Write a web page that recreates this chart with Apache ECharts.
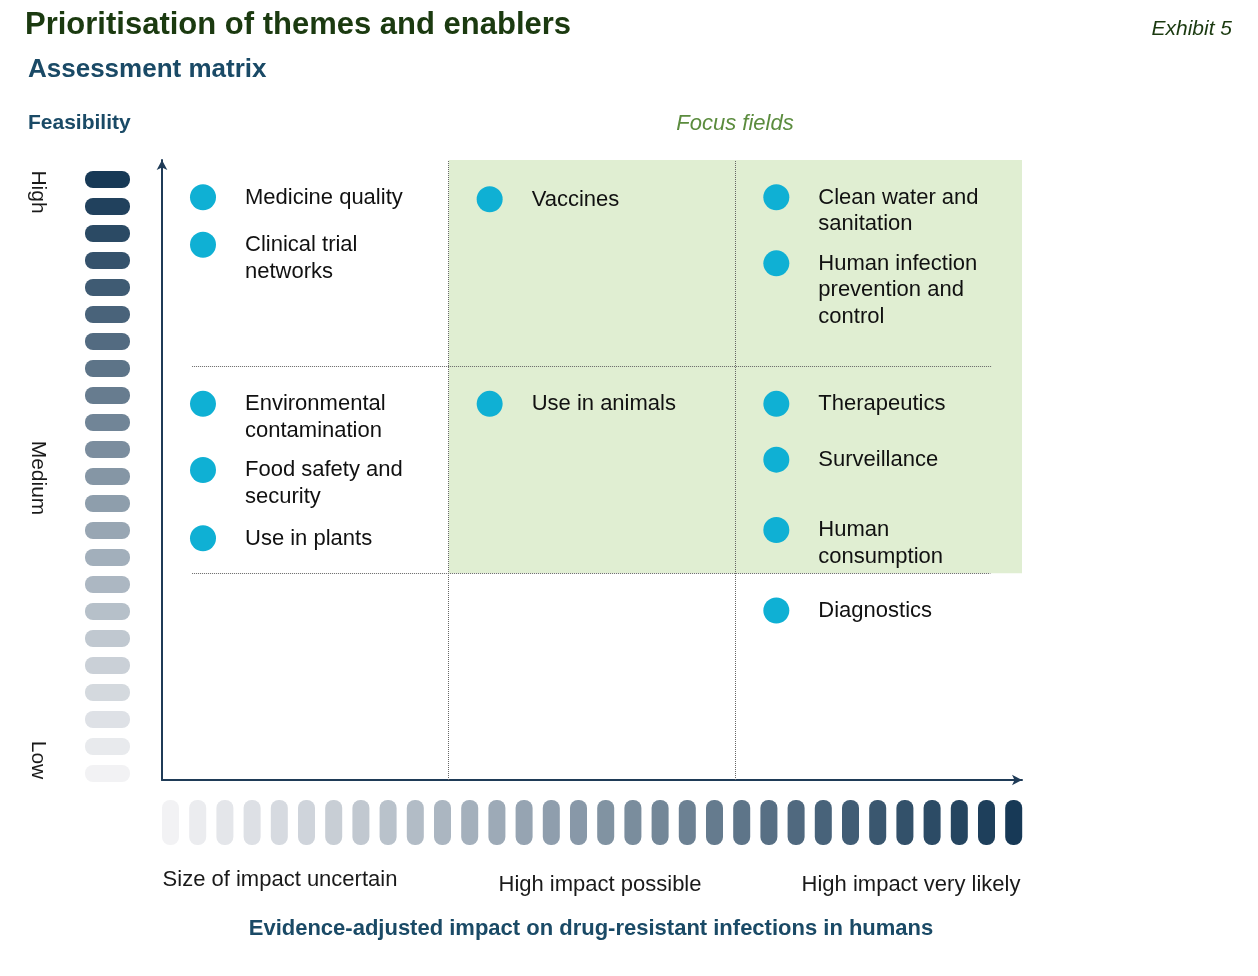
<!DOCTYPE html><html><head><meta charset="utf-8"><script src="https://cdn.jsdelivr.net/npm/echarts@6/dist/echarts.min.js"></script>
<style>html,body{margin:0;background:#fff}#c{width:1258px;height:976px}</style></head><body><div id="c"></div><script>
const themes=["Medicine quality","Clinical trial\nnetworks","Vaccines","Clean water and\nsanitation","Human infection\nprevention and\ncontrol","Environmental\ncontamination","Food safety and\nsecurity","Use in plants","Use in animals","Therapeutics","Surveillance","Human\nconsumption","Diagnostics"];
const impactX=[0.143,0.143,1.143,2.143,2.143,0.143,0.143,0.143,1.143,2.143,2.143,2.143,2.143];
const feasY=[2.82,2.59,2.81,2.82,2.5,1.82,1.5,1.17,1.82,1.82,1.55,1.21,0.82];
const impactLabels=["Size of impact uncertain","High impact possible","High impact very likely"];
const feasLabels=["High","Medium","Low"];
const L=162,T=160,W=860,H=620;
const c=echarts.init(document.getElementById('c'));
function lerp(a,b,t){return Math.round(a+(b-a)*t);}
function col(t){return `rgb(${lerp(242,23,t)},${lerp(242,57,t)},${lerp(244,86,t)})`;}
const g=[];
for(let i=0;i<23;i++){g.push({type:'rect',shape:{x:85,y:171+i*27,width:45,height:17,r:8},style:{fill:col(1-i/22)}});}
for(let i=0;i<32;i++){g.push({type:'rect',shape:{x:162+i*27.2,y:800,width:17,height:45,r:8},style:{fill:col(i/31)}});}
const tx=(x,y,t,s)=>g.push({type:'text',x,y,style:Object.assign({text:t,font:'16px Arial',fill:'#1a1a1a'},s)});
tx(25,10,"Prioritisation of themes and enablers",{font:'bold 31px "Liberation Sans"',fill:'#1b3a10'});
tx(1232,19,"Exhibit 5",{font:'italic 21px Arial',fill:'#1b3a10',align:'right'});
tx(28,57,"Assessment matrix",{font:'bold 26px Arial',fill:'#1a4a66'});
tx(28,113,"Feasibility",{font:'bold 21px Arial',fill:'#1a4a66'});
tx(735,113,"Focus fields",{font:'italic 22px Arial',fill:'#5b8c3e',align:'center'});
[[192],[478],[760]].forEach((p,i)=>g.push({type:'text',x:38,y:p[0],rotation:-Math.PI/2,style:{text:feasLabels[i],font:'21px Arial',fill:'#1a1a1a',align:'center',verticalAlign:'middle'}}));
tx(280,869,impactLabels[0],{font:'22px Arial',align:'center'});
tx(600,874,impactLabels[1],{font:'22px Arial',align:'center'});
tx(911,874,impactLabels[2],{font:'22px Arial',align:'center'});
tx(591,918,"Evidence-adjusted impact on drug-resistant infections in humans",{font:'bold 22px Arial',fill:'#1a4a66',align:'center'});
const dot={type:'dotted',color:'#666',width:1};
c.setOption({animation:false,graphic:g,
grid:{left:L,top:T,width:W,height:H},
xAxis:{type:'value',min:0,max:3,axisLabel:{show:false},axisTick:{show:false},splitLine:{show:false},axisLine:{symbol:['none','arrow'],symbolSize:[8,10],lineStyle:{color:'#1f3b57',width:2}}},
yAxis:{type:'value',min:0,max:3,axisLabel:{show:false},axisTick:{show:false},splitLine:{show:false},axisLine:{symbol:['none','arrow'],symbolSize:[8,10],lineStyle:{color:'#1f3b57',width:2}}},
series:[{type:'scatter',symbolSize:26,itemStyle:{color:'#0fb0d4',opacity:1},
data:themes.map((n,i)=>({value:[impactX[i],feasY[i]],name:n})),
label:{show:true,formatter:p=>p.name,position:[55,0],verticalAlign:'top',align:'left',lineHeight:26.5,fontSize:22,fontFamily:'Arial',color:'#111'},
markArea:{silent:true,itemStyle:{color:'#e0eed2',opacity:1},data:[[{coord:[1,1]},{coord:[3,3]}]]},
markLine:{silent:true,symbol:'none',label:{show:false},lineStyle:dot,data:[
[{coord:[0.105,2]},{coord:[2.895,2]}],[{coord:[0.105,1]},{coord:[2.89,1]}],
[{coord:[1,0]},{coord:[1,3]}],[{coord:[2,0]},{coord:[2,3]}]]}}]});
</script></body></html>
